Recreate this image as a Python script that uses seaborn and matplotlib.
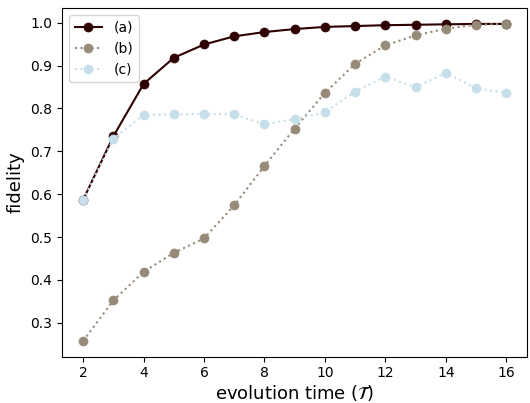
import matplotlib
matplotlib.use("Agg")
import matplotlib.pyplot as plt
import seaborn as sns
import pandas as pd

times = [2, 3, 4, 5, 6, 7, 8, 9, 10, 11, 12, 13, 14, 15, 16]
fid_a = [0.587, 0.735, 0.857, 0.918, 0.949, 0.968, 0.978, 0.985, 0.990, 0.992, 0.994, 0.995, 0.996, 0.997, 0.997]
fid_b = [0.258, 0.352, 0.419, 0.463, 0.497, 0.574, 0.666, 0.753, 0.836, 0.904, 0.947, 0.970, 0.986, 0.995, 0.997]
fid_c = [0.587, 0.729, 0.785, 0.786, 0.787, 0.786, 0.763, 0.775, 0.791, 0.839, 0.874, 0.849, 0.883, 0.847, 0.836]
labels = ["(a)", "(b)", "(c)"]
colors = ["#2e0000", "#978a78", "#c6dfea"]
styles = ["-", ":", ":"]

fig, ax = plt.subplots(figsize=(5.3, 4.03), dpi=100)
for lab, vals, col, ls in zip(labels, [fid_a, fid_b, fid_c], colors, styles):
    df = pd.DataFrame({"t": times, "f": vals})
    sns.lineplot(data=df, x="t", y="f", ax=ax, color=col, linestyle=ls,
                 marker="o", markersize=6.5, markeredgewidth=0.5, markeredgecolor=col,
                 label=lab, linewidth=1.5)

ax.set_xticks([2, 4, 6, 8, 10, 12, 14, 16])
ax.set_yticks([0.3, 0.4, 0.5, 0.6, 0.7, 0.8, 0.9, 1.0])
ax.set_xlabel(r"evolution time ($\mathcal{T}$)", fontsize=13, labelpad=2)
ax.set_ylabel("fidelity", fontsize=13)
ax.legend(loc="upper left", fontsize=10)
fig.subplots_adjust(left=0.117, right=0.995, top=0.98, bottom=0.115)
fig.savefig("out.png", dpi=100)
